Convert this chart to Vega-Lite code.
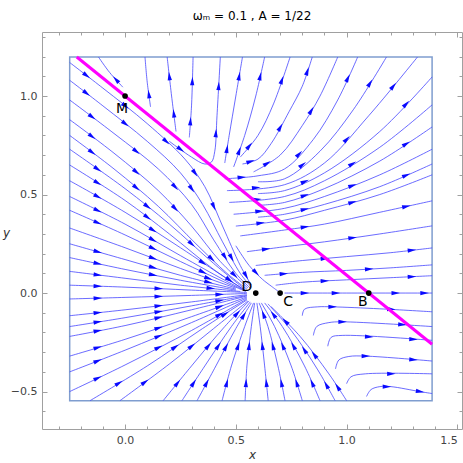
{
"$schema":"https://vega.github.io/schema/vega-lite/v6.json",
"width":420,"height":397,
"autosize":{"type":"none"},
"padding":{"left":42,"top":32,"right":1,"bottom":34},
"background":"white",
"title":{"text":"ωₘ = 0.1 , A = 1/22","fontSize":12,"font":"DejaVu Sans","fontWeight":"normal","anchor":"middle","offset":9,"color":"#000"},
"config":{"view":{"stroke":"#a0a0a0","strokeWidth":1},
 "axis":{"domain":false,"grid":false,"tickColor":"#a0a0a0","labelFont":"DejaVu Sans","labelFontSize":11,"labelColor":"#444","titleFont":"DejaVu Sans","titleFontWeight":"normal","titleFontStyle":"italic","titleFontSize":12,"titleColor":"#333"}},
"resolve":{"axis":{"x":"independent","y":"independent"}},
"datasets":{
"lines":[
{"s":"L1","i":0,"x":-0.25,"y":1.17},{"s":"L1","i":1,"x":-0.1,"y":1.04},{"s":"L1","i":2,"x":0.1,"y":0.86},{"s":"L1","i":3,"x":0.27,"y":0.68},{"s":"L1","i":4,"x":0.36,"y":0.54},{"s":"L1","i":5,"x":0.44,"y":0.34},{"s":"L1","i":6,"x":0.52,"y":0.14},{"s":"L1","i":7,"x":0.57,"y":0.04},
{"s":"L2","i":0,"x":-0.25,"y":1.08},{"s":"L2","i":1,"x":-0.1,"y":0.95},{"s":"L2","i":2,"x":0.1,"y":0.77},{"s":"L2","i":3,"x":0.25,"y":0.61},{"s":"L2","i":4,"x":0.35,"y":0.45},{"s":"L2","i":5,"x":0.44,"y":0.26},{"s":"L2","i":6,"x":0.52,"y":0.1},{"s":"L2","i":7,"x":0.57,"y":0.03},
{"s":"L3","i":0,"x":-0.25,"y":0.98},{"s":"L3","i":1,"x":-0.05,"y":0.81},{"s":"L3","i":2,"x":0.15,"y":0.63},{"s":"L3","i":3,"x":0.3,"y":0.45},{"s":"L3","i":4,"x":0.4,"y":0.27},{"s":"L3","i":5,"x":0.5,"y":0.1},{"s":"L3","i":6,"x":0.565,"y":0.025},
{"s":"L4","i":0,"x":-0.25,"y":0.88},{"s":"L4","i":1,"x":-0.05,"y":0.71},{"s":"L4","i":2,"x":0.15,"y":0.52},{"s":"L4","i":3,"x":0.3,"y":0.34},{"s":"L4","i":4,"x":0.43,"y":0.16},{"s":"L4","i":5,"x":0.555,"y":0.025},
{"s":"L5","i":0,"x":-0.25,"y":0.8},{"s":"L5","i":1,"x":-0.05,"y":0.63},{"s":"L5","i":2,"x":0.15,"y":0.44},{"s":"L5","i":3,"x":0.32,"y":0.25},{"s":"L5","i":4,"x":0.46,"y":0.1},{"s":"L5","i":5,"x":0.55,"y":0.02},
{"s":"L6","i":0,"x":-0.25,"y":0.73},{"s":"L6","i":1,"x":0.0,"y":0.53},{"s":"L6","i":2,"x":0.2,"y":0.35},{"s":"L6","i":3,"x":0.4,"y":0.15},{"s":"L6","i":4,"x":0.54,"y":0.02},
{"s":"L7","i":0,"x":-0.25,"y":0.65},{"s":"L7","i":1,"x":0.0,"y":0.47},{"s":"L7","i":2,"x":0.2,"y":0.3},{"s":"L7","i":3,"x":0.4,"y":0.12},{"s":"L7","i":4,"x":0.54,"y":0.015},
{"s":"L8","i":0,"x":-0.25,"y":0.57},{"s":"L8","i":1,"x":0.0,"y":0.41},{"s":"L8","i":2,"x":0.25,"y":0.23},{"s":"L8","i":3,"x":0.45,"y":0.08},{"s":"L8","i":4,"x":0.545,"y":0.012},
{"s":"L9","i":0,"x":-0.25,"y":0.49},{"s":"L9","i":1,"x":0.0,"y":0.35},{"s":"L9","i":2,"x":0.25,"y":0.19},{"s":"L9","i":3,"x":0.45,"y":0.065},{"s":"L9","i":4,"x":0.545,"y":0.01},
{"s":"L10","i":0,"x":-0.25,"y":0.42},{"s":"L10","i":1,"x":0.0,"y":0.295},{"s":"L10","i":2,"x":0.25,"y":0.16},{"s":"L10","i":3,"x":0.45,"y":0.055},{"s":"L10","i":4,"x":0.545,"y":0.008},
{"s":"L11","i":0,"x":-0.25,"y":0.33},{"s":"L11","i":1,"x":0.0,"y":0.23},{"s":"L11","i":2,"x":0.25,"y":0.125},{"s":"L11","i":3,"x":0.5,"y":0.025},
{"s":"L12","i":0,"x":-0.25,"y":0.25},{"s":"L12","i":1,"x":0.0,"y":0.17},{"s":"L12","i":2,"x":0.25,"y":0.09},{"s":"L12","i":3,"x":0.5,"y":0.02},
{"s":"L13","i":0,"x":-0.25,"y":0.18},{"s":"L13","i":1,"x":0.0,"y":0.12},{"s":"L13","i":2,"x":0.25,"y":0.065},{"s":"L13","i":3,"x":0.5,"y":0.015},
{"s":"L14","i":0,"x":-0.25,"y":0.11},{"s":"L14","i":1,"x":0.0,"y":0.075},{"s":"L14","i":2,"x":0.25,"y":0.04},{"s":"L14","i":3,"x":0.52,"y":0.008},
{"s":"L15","i":0,"x":-0.25,"y":0.04},{"s":"L15","i":1,"x":0.0,"y":0.03},{"s":"L15","i":2,"x":0.3,"y":0.015},{"s":"L15","i":3,"x":0.55,"y":0.003},
{"s":"L16","i":0,"x":-0.25,"y":-0.03},{"s":"L16","i":1,"x":0.0,"y":-0.022},{"s":"L16","i":2,"x":0.3,"y":-0.012},{"s":"L16","i":3,"x":0.55,"y":-0.002},
{"s":"L17","i":0,"x":-0.25,"y":-0.115},{"s":"L17","i":1,"x":0.0,"y":-0.085},{"s":"L17","i":2,"x":0.3,"y":-0.045},{"s":"L17","i":3,"x":0.55,"y":-0.008},
{"s":"L18","i":0,"x":-0.25,"y":-0.17},{"s":"L18","i":1,"x":0.0,"y":-0.125},{"s":"L18","i":2,"x":0.3,"y":-0.065},{"s":"L18","i":3,"x":0.55,"y":-0.012},
{"s":"L19","i":0,"x":-0.25,"y":-0.22},{"s":"L19","i":1,"x":0.0,"y":-0.165},{"s":"L19","i":2,"x":0.3,"y":-0.085},{"s":"L19","i":3,"x":0.55,"y":-0.015},
{"s":"L20","i":0,"x":-0.25,"y":-0.32},{"s":"L20","i":1,"x":0.0,"y":-0.235},{"s":"L20","i":2,"x":0.3,"y":-0.12},{"s":"L20","i":3,"x":0.55,"y":-0.02},
{"s":"L21","i":0,"x":-0.25,"y":-0.4},{"s":"L21","i":1,"x":0.0,"y":-0.29},{"s":"L21","i":2,"x":0.3,"y":-0.15},{"s":"L21","i":3,"x":0.55,"y":-0.025},
{"s":"L22","i":0,"x":-0.25,"y":-0.5},{"s":"L22","i":1,"x":0.0,"y":-0.365},{"s":"L22","i":2,"x":0.3,"y":-0.19},{"s":"L22","i":3,"x":0.55,"y":-0.03},
{"s":"B1","i":0,"x":-0.158,"y":-0.546},{"s":"B1","i":1,"x":0.1,"y":-0.37},{"s":"B1","i":2,"x":0.35,"y":-0.18},{"s":"B1","i":3,"x":0.55,"y":-0.035},
{"s":"B2","i":0,"x":-0.023,"y":-0.546},{"s":"B2","i":1,"x":0.2,"y":-0.36},{"s":"B2","i":2,"x":0.4,"y":-0.18},{"s":"B2","i":3,"x":0.555,"y":-0.04},
{"s":"B3","i":0,"x":0.172,"y":-0.546},{"s":"B3","i":1,"x":0.3,"y":-0.37},{"s":"B3","i":2,"x":0.45,"y":-0.17},{"s":"B3","i":3,"x":0.56,"y":-0.04},
{"s":"B4","i":0,"x":0.257,"y":-0.546},{"s":"B4","i":1,"x":0.36,"y":-0.37},{"s":"B4","i":2,"x":0.48,"y":-0.17},{"s":"B4","i":3,"x":0.565,"y":-0.045},
{"s":"B5","i":0,"x":0.325,"y":-0.546},{"s":"B5","i":1,"x":0.41,"y":-0.37},{"s":"B5","i":2,"x":0.5,"y":-0.18},{"s":"B5","i":3,"x":0.57,"y":-0.05},
{"s":"B6","i":0,"x":0.438,"y":-0.546},{"s":"B6","i":1,"x":0.48,"y":-0.37},{"s":"B6","i":2,"x":0.54,"y":-0.17},{"s":"B6","i":3,"x":0.58,"y":-0.05},
{"s":"B7","i":0,"x":0.542,"y":-0.546},{"s":"B7","i":1,"x":0.55,"y":-0.37},{"s":"B7","i":2,"x":0.57,"y":-0.17},{"s":"B7","i":3,"x":0.585,"y":-0.05},
{"s":"B8","i":0,"x":0.646,"y":-0.546},{"s":"B8","i":1,"x":0.63,"y":-0.37},{"s":"B8","i":2,"x":0.61,"y":-0.17},{"s":"B8","i":3,"x":0.595,"y":-0.05},
{"s":"B9","i":0,"x":0.722,"y":-0.546},{"s":"B9","i":1,"x":0.69,"y":-0.37},{"s":"B9","i":2,"x":0.645,"y":-0.17},{"s":"B9","i":3,"x":0.605,"y":-0.05},
{"s":"B10","i":0,"x":0.8,"y":-0.546},{"s":"B10","i":1,"x":0.75,"y":-0.37},{"s":"B10","i":2,"x":0.675,"y":-0.17},{"s":"B10","i":3,"x":0.615,"y":-0.05},
{"s":"B11","i":0,"x":0.88,"y":-0.546},{"s":"B11","i":1,"x":0.81,"y":-0.37},{"s":"B11","i":2,"x":0.71,"y":-0.17},{"s":"B11","i":3,"x":0.63,"y":-0.05},
{"s":"B12","i":0,"x":0.948,"y":-0.546},{"s":"B12","i":1,"x":0.87,"y":-0.39},{"s":"B12","i":2,"x":0.75,"y":-0.19},{"s":"B12","i":3,"x":0.645,"y":-0.055},
{"s":"B13","i":0,"x":1.0,"y":-0.546},{"s":"B13","i":1,"x":0.92,"y":-0.41},{"s":"B13","i":2,"x":0.79,"y":-0.22},{"s":"B13","i":3,"x":0.66,"y":-0.07},
{"s":"U1","i":0,"x":-0.01,"y":1.045},{"s":"U1","i":1,"x":-0.07,"y":1.12},{"s":"U1","i":2,"x":-0.12,"y":1.198},
{"s":"U2","i":0,"x":0.115,"y":0.945},{"s":"U2","i":1,"x":0.1,"y":1.07},{"s":"U2","i":2,"x":0.09,"y":1.198},
{"s":"U3","i":0,"x":0.23,"y":0.82},{"s":"U3","i":1,"x":0.21,"y":1.0},{"s":"U3","i":2,"x":0.19,"y":1.198},
{"s":"U4","i":0,"x":0.29,"y":0.79},{"s":"U4","i":1,"x":0.3,"y":0.95},{"s":"U4","i":2,"x":0.307,"y":1.198},
{"s":"U5","i":0,"x":0.2,"y":0.77},{"s":"U5","i":1,"x":0.3,"y":0.69},{"s":"U5","i":2,"x":0.36,"y":0.655},{"s":"U5","i":3,"x":0.39,"y":0.665},{"s":"U5","i":4,"x":0.405,"y":0.72},{"s":"U5","i":5,"x":0.415,"y":0.9},{"s":"U5","i":6,"x":0.43,"y":1.198},
{"s":"U6","i":0,"x":0.45,"y":0.66},{"s":"U6","i":1,"x":0.47,"y":0.8},{"s":"U6","i":2,"x":0.5,"y":1.0},{"s":"U6","i":3,"x":0.53,"y":1.198},
{"s":"U7","i":0,"x":0.49,"y":0.64},{"s":"U7","i":1,"x":0.54,"y":0.8},{"s":"U7","i":2,"x":0.59,"y":1.0},{"s":"U7","i":3,"x":0.63,"y":1.198},
{"s":"U8","i":0,"x":0.52,"y":0.69},{"s":"U8","i":1,"x":0.6,"y":0.8},{"s":"U8","i":2,"x":0.67,"y":0.96},{"s":"U8","i":3,"x":0.745,"y":1.198},
{"s":"U9","i":0,"x":0.53,"y":0.655},{"s":"U9","i":1,"x":0.6,"y":0.68},{"s":"U9","i":2,"x":0.66,"y":0.76},{"s":"U9","i":3,"x":0.74,"y":0.92},{"s":"U9","i":4,"x":0.8,"y":1.05},{"s":"U9","i":5,"x":0.845,"y":1.198},
{"s":"U10","i":0,"x":0.58,"y":0.615},{"s":"U10","i":1,"x":0.7,"y":0.7},{"s":"U10","i":2,"x":0.8,"y":0.85},{"s":"U10","i":3,"x":0.88,"y":1.0},{"s":"U10","i":4,"x":0.96,"y":1.198},
{"s":"U11","i":0,"x":0.45,"y":0.58},{"s":"U11","i":1,"x":0.6,"y":0.595},{"s":"U11","i":2,"x":0.72,"y":0.63},{"s":"U11","i":3,"x":0.85,"y":0.78},{"s":"U11","i":4,"x":0.96,"y":0.98},{"s":"U11","i":5,"x":1.05,"y":1.198},
{"s":"U12","i":0,"x":0.6,"y":0.565},{"s":"U12","i":1,"x":0.72,"y":0.58},{"s":"U12","i":2,"x":0.88,"y":0.72},{"s":"U12","i":3,"x":1.03,"y":0.93},{"s":"U12","i":4,"x":1.18,"y":1.198},
{"s":"U13","i":0,"x":0.46,"y":0.52},{"s":"U13","i":1,"x":0.72,"y":0.55},{"s":"U13","i":2,"x":0.9,"y":0.66},{"s":"U13","i":3,"x":1.1,"y":0.9},{"s":"U13","i":4,"x":1.32,"y":1.198},
{"s":"R11","i":0,"x":0.6,"y":0.505},{"s":"R11","i":1,"x":0.72,"y":0.52},{"s":"R11","i":2,"x":0.9,"y":0.61},{"s":"R11","i":3,"x":1.15,"y":0.82},{"s":"R11","i":4,"x":1.386,"y":1.097},
{"s":"R10","i":0,"x":0.47,"y":0.46},{"s":"R10","i":1,"x":0.72,"y":0.49},{"s":"R10","i":2,"x":0.9,"y":0.57},{"s":"R10","i":3,"x":1.15,"y":0.74},{"s":"R10","i":4,"x":1.386,"y":0.955},
{"s":"R9","i":0,"x":0.6,"y":0.445},{"s":"R9","i":1,"x":0.72,"y":0.46},{"s":"R9","i":2,"x":0.9,"y":0.53},{"s":"R9","i":3,"x":1.15,"y":0.67},{"s":"R9","i":4,"x":1.386,"y":0.843},
{"s":"R8","i":0,"x":0.49,"y":0.4},{"s":"R8","i":1,"x":0.72,"y":0.43},{"s":"R8","i":2,"x":0.9,"y":0.49},{"s":"R8","i":3,"x":1.15,"y":0.6},{"s":"R8","i":4,"x":1.386,"y":0.73},
{"s":"R7","i":0,"x":0.6,"y":0.385},{"s":"R7","i":1,"x":0.72,"y":0.4},{"s":"R7","i":2,"x":0.9,"y":0.45},{"s":"R7","i":3,"x":1.15,"y":0.54},{"s":"R7","i":4,"x":1.386,"y":0.655},
{"s":"R6","i":0,"x":0.5,"y":0.34},{"s":"R6","i":1,"x":0.72,"y":0.37},{"s":"R6","i":2,"x":0.9,"y":0.42},{"s":"R6","i":3,"x":1.15,"y":0.5},{"s":"R6","i":4,"x":1.386,"y":0.6},
{"s":"R5","i":0,"x":0.52,"y":0.29},{"s":"R5","i":1,"x":0.72,"y":0.32},{"s":"R5","i":2,"x":0.9,"y":0.35},{"s":"R5","i":3,"x":1.15,"y":0.41},{"s":"R5","i":4,"x":1.386,"y":0.468},
{"s":"R4","i":0,"x":0.55,"y":0.21},{"s":"R4","i":1,"x":0.72,"y":0.235},{"s":"R4","i":2,"x":0.9,"y":0.26},{"s":"R4","i":3,"x":1.15,"y":0.3},{"s":"R4","i":4,"x":1.386,"y":0.341},
{"s":"R3","i":0,"x":0.59,"y":0.14},{"s":"R3","i":1,"x":0.8,"y":0.165},{"s":"R3","i":2,"x":1.0,"y":0.185},{"s":"R3","i":3,"x":1.2,"y":0.205},{"s":"R3","i":4,"x":1.386,"y":0.229},
{"s":"R2","i":0,"x":0.63,"y":0.09},{"s":"R2","i":1,"x":0.8,"y":0.105},{"s":"R2","i":2,"x":1.0,"y":0.115},{"s":"R2","i":3,"x":1.2,"y":0.128},{"s":"R2","i":4,"x":1.386,"y":0.143},
{"s":"R1","i":0,"x":0.68,"y":0.04},{"s":"R1","i":1,"x":0.8,"y":0.055},{"s":"R1","i":2,"x":1.0,"y":0.067},{"s":"R1","i":3,"x":1.2,"y":0.078},{"s":"R1","i":4,"x":1.386,"y":0.088},
{"s":"S","i":0,"x":0.5,"y":0.24},{"s":"S","i":1,"x":0.56,"y":0.14},{"s":"S","i":2,"x":0.62,"y":0.07},{"s":"S","i":3,"x":0.66,"y":0.035},{"s":"S","i":4,"x":0.69,"y":0.01},
{"s":"Y1","i":0,"x":0.72,"y":0.0},{"s":"Y1","i":1,"x":1.0,"y":0.0},{"s":"Y1","i":2,"x":1.386,"y":0.0},
{"s":"H1","i":0,"x":0.8,"y":-0.115},{"s":"H1","i":1,"x":0.81,"y":-0.082},{"s":"H1","i":2,"x":0.87,"y":-0.07},{"s":"H1","i":3,"x":0.935,"y":-0.07},{"s":"H1","i":4,"x":1.15,"y":-0.08},{"s":"H1","i":5,"x":1.386,"y":-0.095},
{"s":"H2","i":0,"x":0.85,"y":-0.215},{"s":"H2","i":1,"x":0.865,"y":-0.17},{"s":"H2","i":2,"x":0.92,"y":-0.15},{"s":"H2","i":3,"x":0.98,"y":-0.146},{"s":"H2","i":4,"x":1.386,"y":-0.17},
{"s":"H3","i":0,"x":0.915,"y":-0.27},{"s":"H3","i":1,"x":0.93,"y":-0.225},{"s":"H3","i":2,"x":0.98,"y":-0.215},{"s":"H3","i":3,"x":1.386,"y":-0.24},
{"s":"H4","i":0,"x":0.95,"y":-0.385},{"s":"H4","i":1,"x":0.965,"y":-0.34},{"s":"H4","i":2,"x":1.01,"y":-0.322},{"s":"H4","i":3,"x":1.085,"y":-0.32},{"s":"H4","i":4,"x":1.386,"y":-0.345},
{"s":"H5","i":0,"x":1.0,"y":-0.46},{"s":"H5","i":1,"x":1.02,"y":-0.425},{"s":"H5","i":2,"x":1.085,"y":-0.41},{"s":"H5","i":3,"x":1.386,"y":-0.41},
{"s":"H6","i":0,"x":1.09,"y":-0.525},{"s":"H6","i":1,"x":1.11,"y":-0.49},{"s":"H6","i":2,"x":1.15,"y":-0.475},{"s":"H6","i":3,"x":1.2,"y":-0.475},{"s":"H6","i":4,"x":1.33,"y":-0.5},{"s":"H6","i":5,"x":1.386,"y":-0.51}
],
"arrows":[
{"x":-0.175,"y":1.105,"dir":127.7},{"x":0.185,"y":0.77,"dir":133.3},{"x":0.4,"y":0.44,"dir":155.8},{"x":0.545,"y":0.09,"dir":150.7},{"x":0.0,"y":0.95,"dir":128.7},{"x":0.315,"y":0.61,"dir":144.2},
{"x":0.0,"y":0.86,"dir":128.7},{"x":0.3,"y":0.53,"dir":144.9},{"x":0.48,"y":0.18,"dir":150.7},{"x":-0.175,"y":1.015,"dir":127.7},
{"x":-0.15,"y":0.895,"dir":127.1},{"x":0.225,"y":0.54,"dir":136.9},{"x":0.45,"y":0.185,"dir":146.6},{"x":0.05,"y":0.72,"dir":128.7},
{"x":-0.15,"y":0.795,"dir":127.1},{"x":0.225,"y":0.43,"dir":136.9},{"x":0.4925,"y":0.0925,"dir":133.9},{"x":0.05,"y":0.615,"dir":130.2},
{"x":0.05,"y":0.535,"dir":130.2},{"x":0.39,"y":0.175,"dir":133.7},{"x":-0.15,"y":0.715,"dir":127.1},
{"x":-0.125,"y":0.63,"dir":125.5},{"x":0.3,"y":0.25,"dir":131.7},{"x":0.1,"y":0.44,"dir":128.7},
{"x":0.1,"y":0.385,"dir":127.1},{"x":0.47,"y":0.0675,"dir":123.8},{"x":-0.125,"y":0.56,"dir":122.7},
{"x":-0.125,"y":0.49,"dir":119.7},{"x":0.35,"y":0.155,"dir":123.8},{"x":0.125,"y":0.32,"dir":122.7},
{"x":0.125,"y":0.27,"dir":119.7},{"x":-0.125,"y":0.42,"dir":116.5},
{"x":-0.125,"y":0.3575,"dir":114},{"x":0.35,"y":0.1075,"dir":115.1},{"x":0.125,"y":0.2275,"dir":115.7},
{"x":0.125,"y":0.1775,"dir":110.5},{"x":0.375,"y":0.075,"dir":109.6},
{"x":-0.125,"y":0.21,"dir":105.9},{"x":0.375,"y":0.055,"dir":104},{"x":0.125,"y":0.13,"dir":105.9},
{"x":0.125,"y":0.0925,"dir":101.1},{"x":-0.125,"y":0.15,"dir":102.1},
{"x":-0.125,"y":0.0925,"dir":97.1},{"x":0.385,"y":0.024,"dir":96},
{"x":0.15,"y":0.0225,"dir":92.5},{"x":-0.125,"y":0.035,"dir":92},
{"x":-0.125,"y":-0.026,"dir":88.4},{"x":0.425,"y":-0.007,"dir":88},{"x":0.15,"y":-0.017,"dir":88},
{"x":0.15,"y":-0.065,"dir":83.2},{"x":-0.125,"y":-0.1,"dir":83.9},
{"x":-0.125,"y":-0.1475,"dir":80.9},{"x":0.425,"y":-0.0385,"dir":79.3},{"x":0.15,"y":-0.095,"dir":79.9},
{"x":0.15,"y":-0.125,"dir":76.6},{"x":-0.125,"y":-0.1925,"dir":78.9},
{"x":-0.125,"y":-0.2775,"dir":73.2},{"x":0.425,"y":-0.07,"dir":70.4},{"x":0.15,"y":-0.1775,"dir":71.2},
{"x":0.15,"y":-0.22,"dir":67.4},{"x":-0.125,"y":-0.345,"dir":68.6},
{"x":-0.125,"y":-0.4325,"dir":64.3},{"x":0.425,"y":-0.11,"dir":60.3},{"x":0.15,"y":-0.2775,"dir":62.5},
{"x":-0.029,"y":-0.458,"dir":58.7},{"x":0.225,"y":-0.275,"dir":55.9},{"x":0.45,"y":-0.1075,"dir":57.1},
{"x":0.0885,"y":-0.453,"dir":53.4},{"x":0.3,"y":-0.27,"dir":51.3},
{"x":0.236,"y":-0.458,"dir":39.2},{"x":0.375,"y":-0.27,"dir":40.1},{"x":0.505,"y":-0.105,"dir":43.5},
{"x":0.3085,"y":-0.458,"dir":33.3},{"x":0.42,"y":-0.27,"dir":34},
{"x":0.3675,"y":-0.458,"dir":28.5},{"x":0.455,"y":-0.275,"dir":28},{"x":0.535,"y":-0.115,"dir":31.2},
{"x":0.459,"y":-0.458,"dir":15},{"x":0.51,"y":-0.27,"dir":18.6},
{"x":0.546,"y":-0.458,"dir":3},{"x":0.56,"y":-0.27,"dir":6.4},
{"x":0.638,"y":-0.458,"dir":354.2},{"x":0.62,"y":-0.27,"dir":353.6},
{"x":0.706,"y":-0.458,"dir":348.5},{"x":0.6675,"y":-0.27,"dir":345.8},{"x":0.625,"y":-0.11,"dir":339.5},
{"x":0.775,"y":-0.458,"dir":342.3},{"x":0.7125,"y":-0.27,"dir":337.2},
{"x":0.845,"y":-0.458,"dir":335.9},{"x":0.76,"y":-0.27,"dir":330.7},{"x":0.67,"y":-0.11,"dir":323.2},
{"x":0.909,"y":-0.468,"dir":330.7},{"x":0.81,"y":-0.29,"dir":326},
{"x":0.96,"y":-0.478,"dir":326.6},{"x":0.855,"y":-0.315,"dir":322.5},{"x":0.725,"y":-0.145,"dir":315.8},
{"x":-0.04,"y":1.0825,"dir":318},
{"x":0.1075,"y":1.0075,"dir":352.3},
{"x":0.22,"y":0.91,"dir":352.9},{"x":0.2,"y":1.099,"dir":353.5},
{"x":0.295,"y":0.87,"dir":4},{"x":0.3035,"y":1.074,"dir":2},
{"x":0.25,"y":0.73,"dir":125.5},{"x":0.41,"y":0.81,"dir":3.6},{"x":0.4225,"y":1.049,"dir":3.2},
{"x":0.46,"y":0.73,"dir":9.1},{"x":0.515,"y":1.099,"dir":9.7},
{"x":0.515,"y":0.72,"dir":19.3},{"x":0.61,"y":1.099,"dir":12.8},
{"x":0.56,"y":0.745,"dir":39.2},{"x":0.7075,"y":1.079,"dir":19.5},
{"x":0.565,"y":0.6675,"dir":72.4},{"x":0.7,"y":0.84,"dir":29.3},{"x":0.8225,"y":1.124,"dir":18.8},
{"x":0.64,"y":0.6575,"dir":57.7},{"x":0.84,"y":0.925,"dir":30.9},
{"x":0.525,"y":0.5875,"dir":84.9},{"x":0.785,"y":0.705,"dir":44.2},{"x":1.005,"y":1.089,"dir":24.9},
{"x":0.8,"y":0.65,"dir":52.1},{"x":1.105,"y":1.064,"dir":32.1},
{"x":0.59,"y":0.535,"dir":84.1},{"x":1.0,"y":0.78,"dir":43.1},{"x":1.21,"y":1.049,"dir":39.7},
{"x":0.81,"y":0.565,"dir":66},{"x":1.268,"y":0.9585,"dir":43.7},
{"x":0.595,"y":0.475,"dir":83.9},{"x":1.025,"y":0.655,"dir":58.8},
{"x":0.81,"y":0.495,"dir":70.9},{"x":1.268,"y":0.7565,"dir":56.9},
{"x":0.605,"y":0.415,"dir":83.4},{"x":1.025,"y":0.545,"dir":68.6},
{"x":0.81,"y":0.425,"dir":76.1},{"x":1.268,"y":0.5975,"dir":66.5},
{"x":0.61,"y":0.355,"dir":83.1},{"x":1.025,"y":0.46,"dir":74.1},
{"x":0.81,"y":0.335,"dir":81.6},{"x":1.268,"y":0.439,"dir":77.7},
{"x":0.635,"y":0.2225,"dir":82.5},{"x":1.025,"y":0.28,"dir":81.9},
{"x":0.9,"y":0.175,"dir":84.9},{"x":1.293,"y":0.217,"dir":83.4},
{"x":0.715,"y":0.0975,"dir":85.5},{"x":1.1,"y":0.1215,"dir":86.7},
{"x":0.9,"y":0.061,"dir":86.9},{"x":1.293,"y":0.083,"dir":87.3},
{"x":0.59,"y":0.105,"dir":136.1},
{"x":0.81,"y":0.0,"dir":90},{"x":0.95,"y":0.0,"dir":90},{"x":1.22,"y":0.0,"dir":90},{"x":1.35,"y":0.0,"dir":90},
{"x":0.935,"y":-0.07,"dir":90},{"x":1.2,"y":-0.082,"dir":93.2},
{"x":0.98,"y":-0.146,"dir":90},{"x":1.25,"y":-0.16,"dir":93.4},
{"x":1.1,"y":-0.222,"dir":93.2},{"x":1.3,"y":-0.235,"dir":93},
{"x":1.085,"y":-0.32,"dir":90},{"x":1.3,"y":-0.338,"dir":94},
{"x":1.2,"y":-0.41,"dir":90},
{"x":1.18,"y":-0.475,"dir":90},{"x":1.33,"y":-0.5,"dir":99.7}
],
"mag":[{"x":-0.218,"y":1.198},{"x":1.386,"y":-0.26}],
"pts":[{"name":"M","x":0,"y":1},{"name":"D","x":0.59,"y":0},{"name":"C","x":0.7,"y":0},{"name":"B","x":1.1,"y":0}],
"box":[{"x0":-0.25,"x1":1.386,"y0":-0.546,"y1":1.198}]
},
"layer":[
{"data":{"name":"box"},"mark":{"type":"rect","fill":"transparent","stroke":"#7f9dcf","strokeWidth":1.5},
 "encoding":{"x":{"field":"x0","type":"quantitative","scale":{"domain":[-0.375,1.521],"nice":false,"zero":false},
   "axis":{"orient":"bottom","values":[0,0.5,1,1.5],"format":".1f","tickSize":-5,"labelPadding":10,"labelFlush":6,"title":"x","titlePadding":4}},
  "x2":{"field":"x1"},
  "y":{"field":"y0","type":"quantitative","scale":{"domain":[-0.69,1.325],"nice":false,"zero":false},
   "axis":{"orient":"left","values":[-0.5,0,0.5,1],"format":".1f","tickSize":-5,"labelPadding":10,"title":"y","titleAngle":0,"titleX":-36,"titleY":200,"titleAlign":"center","titleBaseline":"middle"}},
  "y2":{"field":"y1"}}},
{"data":{"name":"lines"},"mark":{"type":"line","color":"#3c3cff","strokeWidth":0.9,"opacity":0.85,"interpolate":"catmull-rom"},
 "encoding":{"x":{"field":"x","type":"quantitative","axis":null},"y":{"field":"y","type":"quantitative","axis":null},"detail":{"field":"s"},"order":{"field":"i","type":"quantitative"}}},
{"data":{"name":"arrows"},"mark":{"type":"point","shape":"M0,-1L0.45,0.8L-0.45,0.8Z","filled":true,"color":"#0a0aff","opacity":1,"size":90,"strokeWidth":0},
 "encoding":{"x":{"field":"x","type":"quantitative","axis":null},"y":{"field":"y","type":"quantitative","axis":null},"angle":{"field":"dir","type":"quantitative","scale":null}}},
{"data":{"name":"mag"},"mark":{"type":"line","color":"#ff00ff","strokeWidth":3},
 "encoding":{"x":{"field":"x","type":"quantitative","axis":null},"y":{"field":"y","type":"quantitative","axis":null}}},
{"data":{"name":"pts"},"mark":{"type":"point","filled":true,"color":"#000","opacity":1,"size":32},
 "encoding":{"x":{"field":"x","type":"quantitative","axis":null},"y":{"field":"y","type":"quantitative","axis":null}}},
{"data":{"name":"pts"},"transform":[{"filter":"datum.name==='M'"}],"mark":{"type":"text","font":"DejaVu Sans","fontSize":14,"dx":-3,"dy":13,"color":"#000"},
 "encoding":{"x":{"field":"x","type":"quantitative","axis":null},"y":{"field":"y","type":"quantitative","axis":null},"text":{"field":"name"}}},
{"data":{"name":"pts"},"transform":[{"filter":"datum.name==='D'"}],"mark":{"type":"text","font":"DejaVu Sans","fontSize":14,"dx":-9,"dy":-6,"color":"#000"},
 "encoding":{"x":{"field":"x","type":"quantitative","axis":null},"y":{"field":"y","type":"quantitative","axis":null},"text":{"field":"name"}}},
{"data":{"name":"pts"},"transform":[{"filter":"datum.name==='C'"}],"mark":{"type":"text","font":"DejaVu Sans","fontSize":14,"dx":8,"dy":9,"color":"#000"},
 "encoding":{"x":{"field":"x","type":"quantitative","axis":null},"y":{"field":"y","type":"quantitative","axis":null},"text":{"field":"name"}}},
{"data":{"name":"pts"},"transform":[{"filter":"datum.name==='B'"}],"mark":{"type":"text","font":"DejaVu Sans","fontSize":14,"dx":-6,"dy":9,"color":"#000"},
 "encoding":{"x":{"field":"x","type":"quantitative","axis":null},"y":{"field":"y","type":"quantitative","axis":null},"text":{"field":"name"}}},
{"data":{"name":"pts"},"mark":{"type":"point","opacity":0},
 "encoding":{"x":{"field":"x","type":"quantitative","axis":{"orient":"bottom","values":[-0.3,-0.2,-0.1,0.1,0.2,0.3,0.4,0.6,0.7,0.8,0.9,1.1,1.2,1.3,1.4],"labels":false,"tickSize":-3,"title":null}},
  "y":{"field":"y","type":"quantitative","axis":{"orient":"left","values":[-0.6,-0.4,-0.3,-0.2,-0.1,0.1,0.2,0.3,0.4,0.6,0.7,0.8,0.9,1.1,1.2,1.3],"labels":false,"tickSize":-3,"title":null}}}},
{"data":{"name":"pts"},"mark":{"type":"point","opacity":0},
 "encoding":{"x":{"field":"x","type":"quantitative","axis":{"orient":"top","values":[0,0.5,1,1.5],"labels":false,"tickSize":-5,"title":null}},
  "y":{"field":"y","type":"quantitative","axis":{"orient":"right","values":[-0.5,0,0.5,1],"labels":false,"tickSize":-5,"title":null}}}},
{"data":{"name":"pts"},"mark":{"type":"point","opacity":0},
 "encoding":{"x":{"field":"x","type":"quantitative","axis":{"orient":"top","values":[-0.3,-0.2,-0.1,0.1,0.2,0.3,0.4,0.6,0.7,0.8,0.9,1.1,1.2,1.3,1.4],"labels":false,"tickSize":-3,"title":null}},
  "y":{"field":"y","type":"quantitative","axis":{"orient":"right","values":[-0.6,-0.4,-0.3,-0.2,-0.1,0.1,0.2,0.3,0.4,0.6,0.7,0.8,0.9,1.1,1.2,1.3],"labels":false,"tickSize":-3,"title":null}}}}
]
}
